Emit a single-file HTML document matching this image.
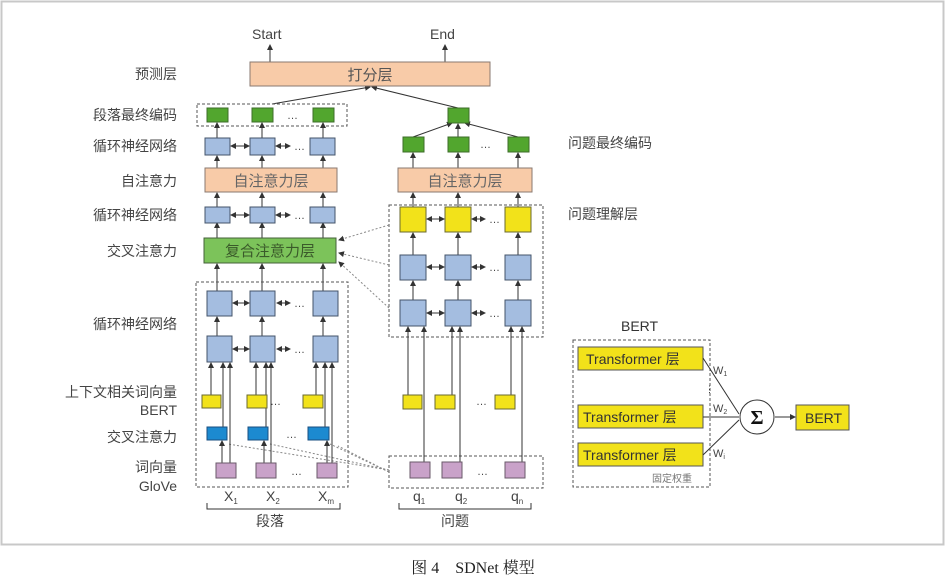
<!DOCTYPE html>
<html><head><meta charset="utf-8"><style>
html,body{margin:0;padding:0;background:#fff;}
svg{display:block;}
text{font-family:"Liberation Sans","Noto Sans CJK SC",sans-serif;}
</style></head><body>
<svg width="946" height="577" viewBox="0 0 946 577" xmlns="http://www.w3.org/2000/svg">
<defs>
<marker id="a" markerWidth="6" markerHeight="6" refX="5" refY="3" orient="auto" markerUnits="userSpaceOnUse"><path d="M0,0 L6,3 L0,6 z" fill="#333"/></marker>
<marker id="b" markerWidth="6" markerHeight="6" refX="1" refY="3" orient="auto" markerUnits="userSpaceOnUse"><path d="M6,0 L0,3 L6,6 z" fill="#333"/></marker>
</defs>
<rect x="1.5" y="1.5" width="942" height="543" fill="#fff" stroke="#c8c8c8" stroke-width="2"/>

<g font-size="14" fill="#444" text-anchor="end">
<text x="177" y="79">预测层</text>
<text x="177" y="120">段落最终编码</text>
<text x="177" y="151">循环神经网络</text>
<text x="177" y="186">自注意力</text>
<text x="177" y="220">循环神经网络</text>
<text x="177" y="256">交叉注意力</text>
<text x="177" y="329">循环神经网络</text>
<text x="177" y="397">上下文相关词向量</text>
<text x="177" y="415">BERT</text>
<text x="177" y="442">交叉注意力</text>
<text x="177" y="472">词向量</text>
<text x="177" y="491">GloVe</text>
</g>
<g font-size="14" fill="#444">
<text x="568" y="148">问题最终编码</text>
<text x="568" y="219">问题理解层</text>
<text x="252" y="39">Start</text>
<text x="430" y="39">End</text>
</g>

<g stroke="#333" stroke-width="1" fill="none">
<line x1="270" y1="62" x2="270" y2="45" marker-end="url(#a)"/>
<line x1="445" y1="62" x2="445" y2="45" marker-end="url(#a)"/>
<line x1="272" y1="104" x2="370" y2="87" marker-end="url(#a)"/>
<line x1="458" y1="108" x2="372" y2="87" marker-end="url(#a)"/>
<line x1="413" y1="137" x2="452" y2="123" marker-end="url(#a)"/>
<line x1="458" y1="137" x2="458" y2="124" marker-end="url(#a)"/>
<line x1="518" y1="137" x2="465" y2="123" marker-end="url(#a)"/>
</g>

<rect x="250" y="62" width="240" height="24" fill="#f8cba8" stroke="#8a7a70"/>
<text x="370" y="80" font-size="15" fill="#555" text-anchor="middle">打分层</text>

<rect x="197" y="104" width="150" height="22" fill="none" stroke="#555" stroke-dasharray="3,2"/>
<g fill="#52a62e" stroke="#3d6d2a">
<rect x="207" y="108" width="21" height="14"/><rect x="252" y="108" width="21" height="14"/><rect x="313" y="108" width="21" height="14"/>
<rect x="448" y="108" width="21" height="15"/>
<rect x="403" y="137" width="21" height="15"/><rect x="448" y="137" width="21" height="15"/><rect x="508" y="137" width="21" height="15"/>
</g>
<g font-size="11" fill="#444"><text x="287" y="119">…</text><text x="480" y="148">…</text></g>

<g stroke="#333" fill="none" marker-end="url(#a)">
<line x1="217" y1="138" x2="217" y2="123"/><line x1="262" y1="138" x2="262" y2="123"/><line x1="323" y1="138" x2="323" y2="123"/>
<line x1="217" y1="168" x2="217" y2="156"/><line x1="262" y1="168" x2="262" y2="156"/><line x1="323" y1="168" x2="323" y2="156"/>
<line x1="217" y1="207" x2="217" y2="193"/><line x1="262" y1="207" x2="262" y2="193"/><line x1="323" y1="207" x2="323" y2="193"/>
<line x1="217" y1="238" x2="217" y2="223"/><line x1="262" y1="238" x2="262" y2="223"/><line x1="323" y1="238" x2="323" y2="223"/>
<line x1="217" y1="291" x2="217" y2="264"/><line x1="262" y1="291" x2="262" y2="264"/><line x1="323" y1="291" x2="323" y2="264"/>
<line x1="413" y1="168" x2="413" y2="153"/><line x1="458" y1="168" x2="458" y2="153"/><line x1="518" y1="168" x2="518" y2="153"/>
<line x1="413" y1="207" x2="413" y2="193"/><line x1="458" y1="207" x2="458" y2="193"/><line x1="518" y1="207" x2="518" y2="193"/>
<line x1="413" y1="255" x2="413" y2="233"/><line x1="458" y1="255" x2="458" y2="233"/><line x1="518" y1="255" x2="518" y2="233"/>
<line x1="413" y1="300" x2="413" y2="281"/><line x1="458" y1="300" x2="458" y2="281"/><line x1="518" y1="300" x2="518" y2="281"/>
<line x1="217" y1="336" x2="217" y2="317"/><line x1="262" y1="336" x2="262" y2="317"/><line x1="323" y1="336" x2="323" y2="317"/>
</g>

<g fill="#a4bde0" stroke="#44546a">
<rect x="205" y="138" width="25" height="17"/><rect x="250" y="138" width="25" height="17"/><rect x="310" y="138" width="25" height="17"/>
<rect x="205" y="207" width="25" height="16"/><rect x="250" y="207" width="25" height="16"/><rect x="310" y="207" width="25" height="16"/>
<rect x="207" y="291" width="25" height="25"/><rect x="250" y="291" width="25" height="25"/><rect x="313" y="291" width="25" height="25"/>
<rect x="207" y="336" width="25" height="26"/><rect x="250" y="336" width="25" height="26"/><rect x="313" y="336" width="25" height="26"/>
<rect x="400" y="255" width="26" height="25"/><rect x="445" y="255" width="26" height="25"/><rect x="505" y="255" width="26" height="25"/>
<rect x="400" y="300" width="26" height="26"/><rect x="445" y="300" width="26" height="26"/><rect x="505" y="300" width="26" height="26"/>
</g>
<g fill="#f2e21a" stroke="#6a6a30">
<rect x="400" y="207" width="26" height="25"/><rect x="445" y="207" width="26" height="25"/><rect x="505" y="207" width="26" height="25"/>
</g>
<g stroke="#333" fill="none" marker-end="url(#a)" marker-start="url(#b)">
<line x1="231" y1="146" x2="249" y2="146"/><line x1="276" y1="146" x2="290" y2="146"/>
<line x1="231" y1="215" x2="249" y2="215"/><line x1="276" y1="215" x2="290" y2="215"/>
<line x1="233" y1="303" x2="249" y2="303"/><line x1="277" y1="303" x2="290" y2="303"/>
<line x1="233" y1="349" x2="249" y2="349"/><line x1="277" y1="349" x2="290" y2="349"/>
<line x1="427" y1="219" x2="444" y2="219"/><line x1="472" y1="219" x2="485" y2="219"/>
<line x1="427" y1="267" x2="444" y2="267"/><line x1="472" y1="267" x2="485" y2="267"/>
<line x1="427" y1="313" x2="444" y2="313"/><line x1="472" y1="313" x2="485" y2="313"/>
</g>
<g font-size="11" fill="#444">
<text x="294" y="150">…</text><text x="294" y="219">…</text><text x="294" y="307">…</text><text x="294" y="353">…</text>
<text x="489" y="223">…</text><text x="489" y="271">…</text><text x="489" y="317">…</text>
<text x="270" y="405">…</text><text x="286" y="438">…</text><text x="291" y="475">…</text>
<text x="476" y="405">…</text><text x="477" y="475">…</text>
</g>

<rect x="205" y="168" width="132" height="24" fill="#f8cba8" stroke="#8a7a70"/>
<text x="271" y="186" font-size="15" fill="#666" text-anchor="middle">自注意力层</text>
<rect x="398" y="168" width="134" height="24" fill="#f8cba8" stroke="#8a7a70"/>
<text x="465" y="186" font-size="15" fill="#666" text-anchor="middle">自注意力层</text>
<rect x="204" y="238" width="132" height="25" fill="#7cc35a" stroke="#44603a"/>
<text x="270" y="256" font-size="15" fill="#3a5a2a" text-anchor="middle">复合注意力层</text>

<g fill="none" stroke="#555" stroke-dasharray="3,2">
<rect x="389" y="205" width="154" height="132"/>
<rect x="196" y="282" width="152" height="205"/>
<rect x="389" y="456" width="154" height="32"/>
<rect x="573" y="340" width="137" height="147"/>
</g>
<g stroke="#888" fill="none" stroke-dasharray="2,2" marker-end="url(#a)">
<line x1="389" y1="225" x2="339" y2="240"/>
<line x1="389" y1="265" x2="339" y2="253"/>
<line x1="389" y1="308" x2="339" y2="262"/>
</g>
<g stroke="#888" fill="none" stroke-dasharray="2,2">
<line x1="389" y1="470" x2="228" y2="444"/>
<line x1="389" y1="470" x2="270" y2="444"/>
<line x1="389" y1="472" x2="330" y2="444"/>
<line x1="389" y1="472" x2="338" y2="446"/>
</g>

<g stroke="#333" fill="none" marker-end="url(#a)">
<line x1="211" y1="395" x2="211" y2="363"/><line x1="256" y1="395" x2="256" y2="363"/><line x1="316" y1="395" x2="316" y2="363"/>
<line x1="223" y1="427" x2="223" y2="363"/><line x1="266" y1="427" x2="266" y2="363"/><line x1="325" y1="427" x2="325" y2="363"/>
<line x1="230" y1="463" x2="230" y2="363"/><line x1="271" y1="463" x2="271" y2="363"/><line x1="332" y1="463" x2="332" y2="363"/>
<line x1="222" y1="463" x2="222" y2="441"/><line x1="264" y1="463" x2="264" y2="441"/><line x1="327" y1="463" x2="327" y2="441"/>
<line x1="408" y1="395" x2="408" y2="327"/><line x1="452" y1="395" x2="452" y2="327"/><line x1="511" y1="395" x2="511" y2="327"/>
<line x1="424" y1="462" x2="424" y2="327"/><line x1="460" y1="462" x2="460" y2="327"/><line x1="522" y1="462" x2="522" y2="327"/>
</g>
<g fill="#f2e21a" stroke="#6a6a30">
<rect x="202" y="395" width="19" height="13"/><rect x="247" y="395" width="20" height="13"/><rect x="303" y="395" width="20" height="13"/>
<rect x="403" y="395" width="19" height="14"/><rect x="435" y="395" width="20" height="14"/><rect x="495" y="395" width="20" height="14"/>
</g>
<g fill="#1c8ad0" stroke="#1a4f80">
<rect x="207" y="427" width="20" height="13"/><rect x="248" y="427" width="20" height="13"/><rect x="308" y="427" width="21" height="13"/>
</g>
<g fill="#c9a2c9" stroke="#6a5a6a">
<rect x="216" y="463" width="20" height="15"/><rect x="256" y="463" width="20" height="15"/><rect x="317" y="463" width="20" height="15"/>
<rect x="410" y="462" width="20" height="16"/><rect x="442" y="462" width="20" height="16"/><rect x="505" y="462" width="20" height="16"/>
</g>

<g font-size="14" fill="#444">
<text x="224" y="501">X<tspan font-size="8" dy="3">1</tspan></text>
<text x="266" y="501">X<tspan font-size="8" dy="3">2</tspan></text>
<text x="318" y="501">X<tspan font-size="8" dy="3">m</tspan></text>
<text x="413" y="501">q<tspan font-size="8" dy="3">1</tspan></text>
<text x="455" y="501">q<tspan font-size="8" dy="3">2</tspan></text>
<text x="511" y="501">q<tspan font-size="8" dy="3">n</tspan></text>
<text x="256" y="526">段落</text>
<text x="441" y="526">问题</text>
</g>
<g stroke="#333" fill="none">
<path d="M207,503 V509 H340 V503"/>
<path d="M399,503 V509 H531 V503"/>
</g>

<text x="621" y="331" font-size="14" fill="#333">BERT</text>
<g fill="#f2e21a" stroke="#555">
<rect x="578" y="347" width="125" height="23"/>
<rect x="578" y="405" width="125" height="23"/>
<rect x="578" y="443" width="125" height="23"/>
<rect x="796" y="405" width="53" height="25"/>
</g>
<g font-size="14" fill="#333">
<text x="586" y="364">Transformer 层</text>
<text x="583" y="422">Transformer 层</text>
<text x="583" y="460">Transformer 层</text>
<text x="805" y="423">BERT</text>
</g>
<text x="705" y="392" font-size="9" fill="#333">⋮</text>
<text x="652" y="482" font-size="10" fill="#777">固定权重</text>
<g stroke="#333" fill="none">
<line x1="703" y1="358" x2="739" y2="414"/>
<line x1="703" y1="417" x2="739" y2="417"/>
<line x1="703" y1="455" x2="739" y2="420"/>
<line x1="775" y1="417" x2="795" y2="417" marker-end="url(#a)"/>
<circle cx="757" cy="417" r="17" fill="#fff"/>
</g>
<text x="757" y="424" font-size="20" font-weight="bold" text-anchor="middle" style="font-family:'Liberation Serif',serif" fill="#111">Σ</text>
<g font-size="11" fill="#444">
<text x="713" y="374">W<tspan font-size="7" dy="2">1</tspan></text>
<text x="713" y="412">W<tspan font-size="7" dy="2">2</tspan></text>
<text x="713" y="457">W<tspan font-size="7" dy="2">i</tspan></text>
</g>

<text x="473" y="573" font-size="16" fill="#222" text-anchor="middle" style="font-family:'Liberation Serif','Noto Serif CJK SC',serif">图 4　SDNet 模型</text>
</svg>
</body></html>
